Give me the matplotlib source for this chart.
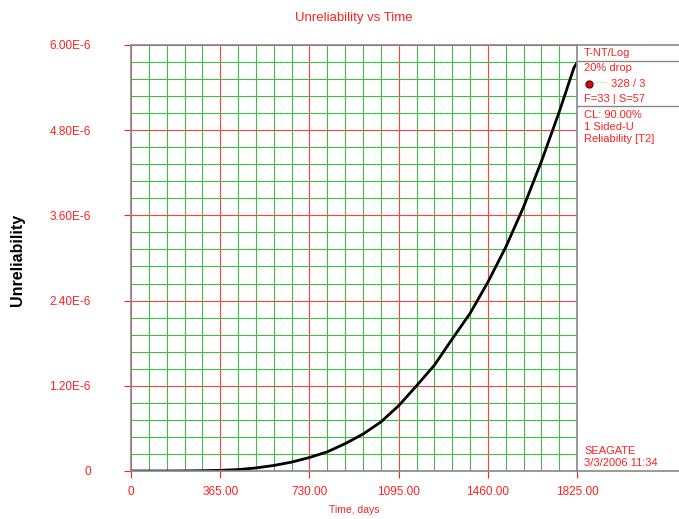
import matplotlib.pyplot as plt
import numpy as np
from matplotlib.ticker import MultipleLocator

plt.rcParams['font.family'] = ['Liberation Sans', 'DejaVu Sans']

# curve (time in days, unreliability in 1E-6)
t = [0, 146, 219, 292, 365, 438, 511, 584, 657, 730, 803, 876, 949, 1022,
     1095, 1168, 1241, 1314, 1387, 1460, 1534, 1606, 1679, 1752, 1812, 1825]
u = [0, 0.0, 0.001, 0.004, 0.009, 0.02, 0.043, 0.078, 0.125, 0.19, 0.27, 0.385, 0.52, 0.69,
     0.92, 1.2, 1.49, 1.86, 2.22, 2.66, 3.16, 3.72, 4.36, 5.06, 5.68, 5.75]
xticks = [0, 365, 730, 1095, 1460, 1825]
xtick_labels = ['0', '365.00', '730.00', '1095.00', '1460.00', '1825.00']
yticks = [0, 1.2e-6, 2.4e-6, 3.6e-6, 4.8e-6, 6.0e-6]
ytick_labels = ['0', '1.20E-6', '2.40E-6', '3.60E-6', '4.80E-6', '6.00E-6']
info_top = ['T-NT/Log', '20% drop', '', 'F=33 | S=57']
info_mid = ['CL: 90.00%', '1 Sided-U', 'Reliability [T2]']
info_bot = ['SEAGATE', '3/3/2006 11:34']

red = '#ff2020'
fig = plt.figure(figsize=(6.79, 5.19), dpi=100)
ax = fig.add_axes([0.193, 0.0925, 0.657, 0.821])

ax.set_xlim(0, 1825)
ax.set_ylim(0, 6e-6)
ax.xaxis.set_minor_locator(MultipleLocator(73))
ax.yaxis.set_minor_locator(MultipleLocator(0.24e-6))
ax.set_xticks(xticks)
ax.set_xticklabels(xtick_labels)
ax.set_yticks(yticks)
ax.set_yticklabels(ytick_labels)
ax.grid(which='minor', color='#44bb44', linewidth=0.8)
ax.grid(which='major', color='#ff4040', linewidth=0.8)
ax.tick_params(which='major', colors=red, labelsize=8.5, length=5)
ax.tick_params(axis='y', pad=24)
ax.tick_params(axis='x', pad=6)
ax.tick_params(which='minor', length=0)
for s in ax.spines.values():
    s.set_color('#888888')
    s.set_linewidth(1.2)

ax.plot(np.array(t), np.array(u) * 1e-6, color='black', linewidth=2)

ax.set_title('Unreliability vs Time', color=red, fontsize=9.5, pad=17)
ax.set_xlabel('Time, days', color=red, fontsize=7.5, labelpad=5)
fig.text(0.026, 0.5, 'Unreliability', rotation=90, va='center', ha='center',
         fontsize=11.5, fontweight='bold')

# info panel on the right
gray = '#888888'
fig.add_artist(plt.Line2D([577/679, 1], [1 - 45/519, 1 - 45/519], color=gray, lw=1.2))
fig.add_artist(plt.Line2D([577/679, 1], [1 - 471/519, 1 - 471/519], color=gray, lw=1.2))
fig.add_artist(plt.Line2D([577/679, 1], [1 - 61/519, 1 - 61/519], color=gray, lw=1))
fig.add_artist(plt.Line2D([577/679, 1], [1 - 106/519, 1 - 106/519], color=gray, lw=1))

tx = 584 / 679
fs = 8
for i, s in enumerate(info_top):
    if s:
        fig.text(tx, 1 - (53 + i * 15.3) / 519, s, color=red, fontsize=fs, va='center')
fig.text(611 / 679, 1 - 84 / 519, '328 / 3', color=red, fontsize=fs, va='center')
fig.add_artist(plt.Line2D([589/679], [1 - 84/519], marker='o', color='#cc1111',
                          markersize=5, markeredgecolor='#880000'))
fig.add_artist(plt.Line2D([596/679, 606/679], [1 - 82/519, 1 - 82/519], color='#ff9999',
                          lw=0.8, linestyle=':'))
for i, s in enumerate(info_mid):
    fig.text(tx, 1 - (115 + i * 12) / 519, s, color=red, fontsize=fs, va='center')
for i, s in enumerate(info_bot):
    fig.text(tx, 1 - (451 + i * 12) / 519, s, color=red, fontsize=fs, va='center')

fig.savefig('out.png', dpi=100)
